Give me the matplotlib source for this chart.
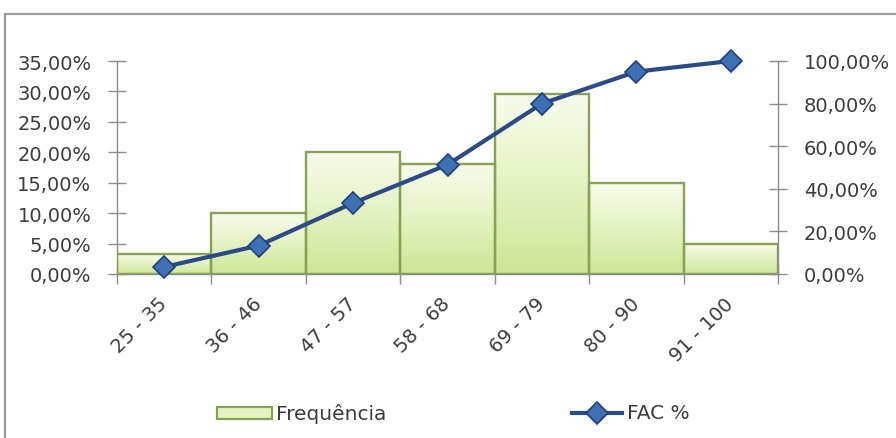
import matplotlib
matplotlib.use("Agg")
import matplotlib.pyplot as plt
import numpy as np
from matplotlib.colors import LinearSegmentedColormap
from matplotlib.lines import Line2D
from matplotlib.patches import Rectangle
from matplotlib.ticker import FixedLocator, FuncFormatter

# Score classes, relative frequency of each class and cumulative frequency (FAC %)
classes = ["25 - 35", "36 - 46", "47 - 57", "58 - 68", "69 - 79", "80 - 90", "91 - 100"]
frequencia = [3.33, 10.0, 20.0, 18.0, 29.5, 15.0, 5.0]
fac = [3.33, 13.33, 33.33, 51.33, 80.0, 95.0, 100.0]

left_ticks = [0, 5, 10, 15, 20, 25, 30, 35]
right_ticks = [0, 20, 40, 60, 80, 100]
legend_labels = ["Frequência", "FAC %"]

FONT = ["DejaVu Sans"]
TEXT_COLOR = "#3c3c3c"
AXIS_COLOR = "#8c8c8c"
BAR_EDGE = "#87a155"
LINE_COLOR = "#2c4a86"
MARKER_FACE = "#3f70b4"
MARKER_EDGE = "#21407a"

plt.rcParams["font.family"] = FONT


def pct(v, _pos=None):
    return f"{v:.2f}%".replace(".", ",")


fig = plt.figure(figsize=(8.96, 4.39), dpi=100)
W, H = 896, 439


def fx(px):
    return px / W


def fy(py):
    return 1 - py / H


# outer chart frame (continues past the right and bottom edges)
fig.patches.append(Rectangle((fx(5), fy(445)), 1.2, fy(15) - fy(445), transform=fig.transFigure,
                             fill=False, edgecolor="#9a9a9a", linewidth=1.6, zorder=0))

ax = fig.add_axes([fx(117), fy(275), fx(778 - 117), (275 - 62) / H])
ax2 = ax.twinx()

x = np.arange(len(classes))

# histogram bars, each filled with a vertical green-to-white gradient
grad_cmap = LinearSegmentedColormap.from_list("g", ["#cce696", "#e4f2c2", "#f7fbec"])
grad = np.linspace(0, 1, 256).reshape(-1, 1)
bars = ax.bar(x, frequencia, width=1.0, facecolor="none", edgecolor=BAR_EDGE,
              linewidth=1.7, zorder=3)
for b in bars:
    x0, y0 = b.get_x(), b.get_y()
    im = ax.imshow(grad, cmap=grad_cmap, origin="lower", aspect="auto",
                   extent=[x0, x0 + b.get_width(), y0, y0 + b.get_height()],
                   zorder=2, interpolation="bilinear")
    im.set_clip_path(b)
ax.set_xlim(-0.5, len(classes) - 0.5)
ax.set_ylim(0, 35)
ax2.set_ylim(0, 100)

# cumulative frequency line
ax2.plot(x, fac, color=LINE_COLOR, linewidth=3.0, marker="D", markersize=11.5,
         markerfacecolor=MARKER_FACE, markeredgecolor=MARKER_EDGE, markeredgewidth=1.2,
         zorder=5, clip_on=False)
ax2.set_zorder(ax.get_zorder() + 1)
ax2.patch.set_visible(False)

# axes styling
for a in (ax, ax2):
    a.spines["top"].set_visible(False)
    for s in ("left", "right", "bottom"):
        a.spines[s].set_color(AXIS_COLOR)
        a.spines[s].set_linewidth(1.0)
ax.spines["right"].set_visible(False)
ax2.spines["left"].set_visible(False)
ax2.spines["bottom"].set_visible(False)

ax.yaxis.set_major_locator(FixedLocator(left_ticks))
ax.yaxis.set_major_formatter(FuncFormatter(pct))
ax2.yaxis.set_major_locator(FixedLocator(right_ticks))
ax2.yaxis.set_major_formatter(FuncFormatter(pct))
for a in (ax, ax2):
    a.tick_params(axis="y", direction="inout", length=13, width=1.0, color=AXIS_COLOR,
                  labelsize=14, labelcolor=TEXT_COLOR, pad=12)

# category labels at bar centres, tick marks at class boundaries
ax.set_xticks(x)
ax.set_xticklabels(classes, rotation=45, ha="right", va="center", rotation_mode="anchor",
                   fontsize=14, color=TEXT_COLOR)
ax.set_xticks(np.arange(-0.5, len(classes)), minor=True)
ax.tick_params(axis="x", which="major", length=0, pad=19)
ax.tick_params(axis="x", which="minor", direction="inout", length=14, width=1.0,
               color=AXIS_COLOR)

# legend
fig.patches.append(Rectangle((fx(217), fy(420)), fx(272 - 217), fy(408) - fy(420),
                             transform=fig.transFigure, facecolor="#e4f2c4",
                             edgecolor=BAR_EDGE, linewidth=1.6))
fig.text(fx(276), fy(414), legend_labels[0], fontsize=14.5, color=TEXT_COLOR,
         ha="left", va="center")
fig.add_artist(Line2D([fx(572), fx(622)], [fy(414), fy(414)], transform=fig.transFigure,
                      color=LINE_COLOR, linewidth=3.0))
fig.add_artist(Line2D([fx(597)], [fy(414)], transform=fig.transFigure, marker="D",
                      markersize=11.5, markerfacecolor=MARKER_FACE,
                      markeredgecolor=MARKER_EDGE, markeredgewidth=1.2, linestyle="none"))
fig.text(fx(627), fy(414), legend_labels[1], fontsize=14.5, color=TEXT_COLOR,
         ha="left", va="center")

fig.savefig("out.png", dpi=100)
